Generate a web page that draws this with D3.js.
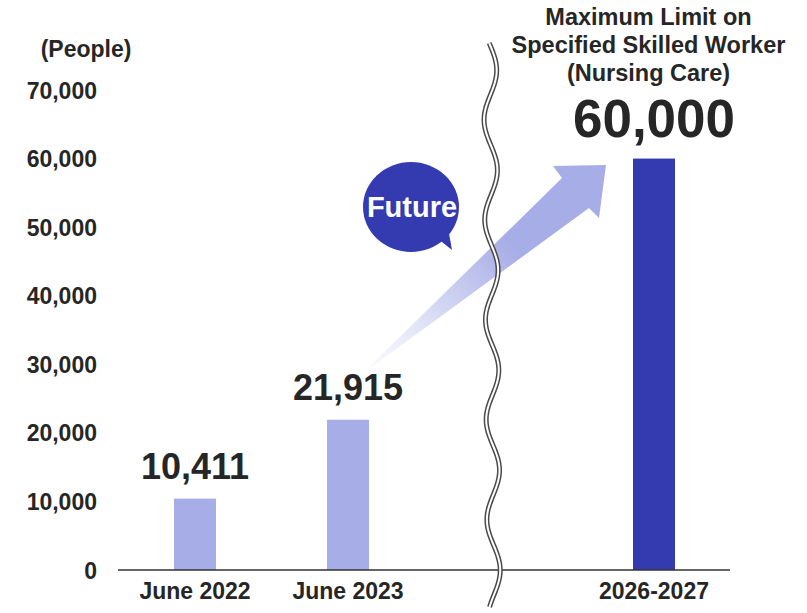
<!DOCTYPE html>
<html>
<head>
<meta charset="utf-8">
<script src="https://cdn.jsdelivr.net/npm/d3@7"></script>
<style>
  html, body { margin: 0; padding: 0; background: #fff; }
  svg { display: block; font-family: "Liberation Sans", Arial, sans-serif; }
</style>
</head>
<body>
<svg id="chart" width="807" height="613"></svg>
<script>
// Data
const categories = ["June 2022", "June 2023", "2026-2027"];
const values = [10411, 21915, 60000];
const valueLabels = ["10,411", "21,915", "60,000"];
const barColors = ["#a7ade6", "#a7ade6", "#343bb0"];
const yTicks = [0, 10000, 20000, 30000, 40000, 50000, 60000, 70000];
const unitLabel = "(People)";
const headingLines = ["Maximum Limit on", "Specified Skilled Worker", "(Nursing Care)"];
const bubbleText = "Future";

const svg = d3.select("#chart");
const ink = "#262626";

// Scales: a spacer slot sits between the recent years and the target period
const slots = ["June 2022", "June 2023", "__gap__", "2026-2027"];
const x = d3.scalePoint().domain(slots).range([195, 654]);
const y = d3.scaleLinear().domain([0, 70000]).range([570, 90]);
const barW = 42;

// Y axis labels
const yAxis = d3.axisLeft(y).tickValues(yTicks).tickFormat(d3.format(",")).tickSize(0).tickPadding(0);
const gy = svg.append("g").attr("transform", "translate(97,0)").call(yAxis);
gy.select(".domain").remove();
gy.selectAll("text")
  .attr("fill", ink).attr("font-size", 23).attr("font-weight", "bold")
  .attr("font-family", "Liberation Sans, Arial, sans-serif")
  .attr("dy", "0.35em");

svg.append("text").attr("x", 86).attr("y", 57).attr("text-anchor", "middle")
  .attr("fill", ink).attr("font-size", 23).attr("font-weight", "bold").text(unitLabel);

// Arrow pointing toward the target bar (gradient fades toward its tail)
const defs = svg.append("defs");
const grad = defs.append("linearGradient").attr("id", "arrowGrad")
  .attr("gradientUnits", "userSpaceOnUse")
  .attr("x1", 362).attr("y1", 375).attr("x2", 560).attr("y2", 200);
grad.append("stop").attr("offset", "0").attr("stop-color", "#ffffff");
grad.append("stop").attr("offset", "0.25").attr("stop-color", "#e6e8f8");
grad.append("stop").attr("offset", "0.75").attr("stop-color", "#a7ade6");
grad.append("stop").attr("offset", "1").attr("stop-color", "#a7ade6");

const arrowPts = [
  [362, 374], [562, 178], [553, 166], [606, 165], [599, 218], [589, 208], [362, 374]
];
svg.append("path")
  .attr("d", d3.line()(arrowPts) + "Z")
  .attr("fill", "url(#arrowGrad)");

// Bars
const bars = categories.map((c, i) => ({ c, v: values[i], label: valueLabels[i], color: barColors[i] }));
svg.append("g").selectAll("rect").data(bars).join("rect")
  .attr("x", d => x(d.c) - barW / 2)
  .attr("width", barW)
  .attr("y", d => y(d.v))
  .attr("height", d => y(0) - y(d.v))
  .attr("fill", d => d.color);

// Baseline
svg.append("line").attr("x1", 118).attr("x2", 730).attr("y1", y(0)).attr("y2", y(0))
  .attr("stroke", "#333").attr("stroke-width", 1.5);

// Value labels
svg.append("g").selectAll("text").data(bars).join("text")
  .attr("x", d => x(d.c))
  .attr("y", (d, i) => i === 2 ? y(d.v) - 22 : y(d.v) - 20)
  .attr("text-anchor", "middle")
  .attr("fill", ink).attr("font-weight", "bold")
  .attr("font-size", (d, i) => i === 2 ? 53 : 36)
  .text(d => d.label);

// Category labels
svg.append("g").selectAll("text").data(categories).join("text")
  .attr("x", d => x(d)).attr("y", 599)
  .attr("text-anchor", "middle")
  .attr("fill", ink).attr("font-size", 23).attr("font-weight", "bold")
  .text(d => d);

// Heading over the target bar
svg.append("g").selectAll("text").data(headingLines).join("text")
  .attr("x", 648.5).attr("y", (d, i) => 25 + i * 28)
  .attr("text-anchor", "middle")
  .attr("fill", ink).attr("font-size", 23.5).attr("font-weight", "bold")
  .text(d => d);

// "Future" speech bubble
const bub = svg.append("g");
bub.append("path")
  .attr("d", "M437,238 L452,250 L448,228 Z")
  .attr("fill", "#343bb0");
bub.append("ellipse").attr("cx", 411).attr("cy", 207).attr("rx", 48).attr("ry", 45).attr("fill", "#343bb0");
bub.append("text").attr("x", 412).attr("y", 217).attr("text-anchor", "middle")
  .attr("fill", "#fff").attr("font-size", 29).attr("font-weight", "bold").text(bubbleText);

// Wavy axis break (double line)
const wave = d3.range(43, 608, 2).map(t => {
  const drift = (t - 43) / (607 - 43) * 4;
  return [490 + drift + 6.5 * Math.sin((t - 95) / 100 * 2 * Math.PI + Math.PI), t];
});
const wavePath = d3.line().curve(d3.curveBasis)(wave);
svg.append("path").attr("d", wavePath).attr("fill", "none")
  .attr("stroke", "#4a4a4a").attr("stroke-width", 5);
svg.append("path").attr("d", wavePath).attr("fill", "none")
  .attr("stroke", "#ffffff").attr("stroke-width", 2);
</script>
</body>
</html>
